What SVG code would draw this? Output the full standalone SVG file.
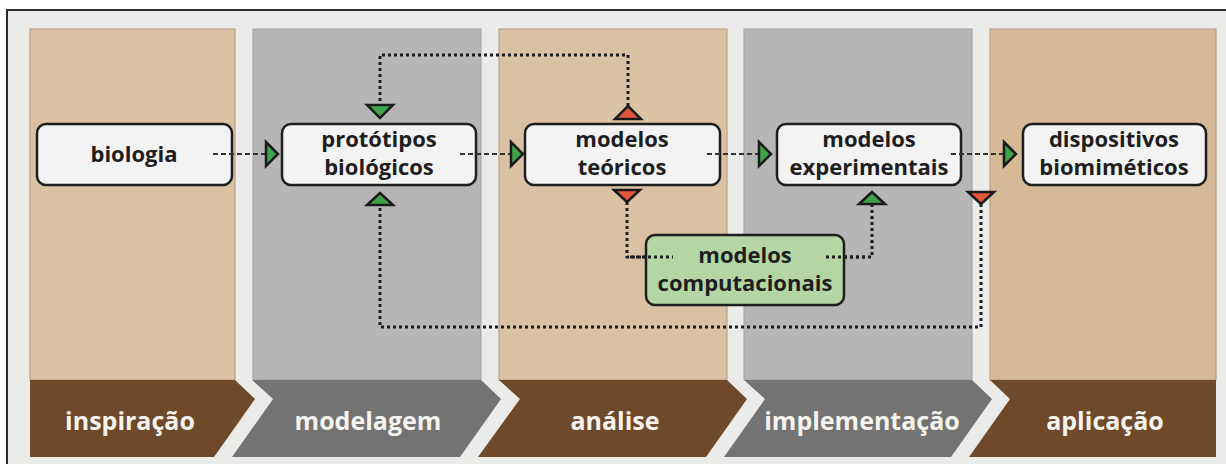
<svg xmlns="http://www.w3.org/2000/svg" width="1226" height="464" viewBox="0 0 1226 464">
<defs>
<style>
.tan{fill:#dbc1a4;stroke:#b39878;stroke-width:1}
.tan2{fill:#d6b996;stroke:#b39878;stroke-width:1}
.gry{fill:#b6b6b6;stroke:#a2a2a2;stroke-width:1}
.bb{fill:#6e4a2a}
.gb{fill:#737373}
.bt{font-family:"Open Sans","DejaVu Sans",sans-serif;font-weight:bold;font-size:25px;fill:#f7f3ee;text-anchor:middle}
.node{fill:#f3f3f3;stroke:#1e1e1e;stroke-width:2.5}
.gnode{fill:#b4d6a5;stroke:#1e1e1e;stroke-width:2.5}
.nt{font-family:"Open Sans","DejaVu Sans",sans-serif;font-weight:bold;font-size:22px;fill:#1e1e1e;text-anchor:middle}
.dot{fill:none;stroke:#1e1e1e;stroke-width:3;stroke-dasharray:3 3}
.dash{fill:none;stroke:#333;stroke-width:2;stroke-dasharray:5 3}
.tg{fill:#3fa447;stroke:#1a1a1a;stroke-width:2.5;stroke-linejoin:miter}
.tr{fill:#e2573b;stroke:#1a1a1a;stroke-width:2.5;stroke-linejoin:miter}
</style>
</defs>
<rect x="0" y="0" width="1226" height="464" fill="#ffffff"/>
<rect x="7" y="10" width="1240" height="470" fill="#ebebea" stroke="#2b2b2b" stroke-width="2"/>

<g id="col-inspiracao">
<rect class="tan" x="30" y="29" width="205" height="351"/>
<polygon class="bb" points="30,380 235,380 255,399 214,457 30,457"/>
<text class="bt" x="130" y="430">inspiração</text>
</g>
<g id="col-modelagem">
<rect class="gry" x="253" y="29" width="228" height="351"/>
<polygon class="gb" points="252,380 481,380 501,399 460,457 232,457 273,399"/>
<text class="bt" x="368" y="430">modelagem</text>
</g>
<g id="col-analise">
<rect class="tan" x="499" y="29" width="228" height="351"/>
<polygon class="bb" points="499,380 727,380 747,399 706,457 478,457 520,399"/>
<text class="bt" x="615" y="430">análise</text>
</g>
<g id="col-implementacao">
<rect class="gry" x="744" y="29" width="228" height="351"/>
<polygon class="gb" points="744,380 972,380 992,399 951,457 724,457 765,399"/>
<text class="bt" x="862" y="430">implementação</text>
</g>
<g id="col-aplicacao">
<rect class="tan2" x="990" y="29" width="226" height="351"/>
<polygon class="bb" points="990,380 1216,380 1216,457 969,457 1010,399"/>
<text class="bt" x="1105" y="430">aplicação</text>
</g>

<g id="connectors">
<path class="dot" d="M628,106 V55 H380 V104"/>
<path class="dot" d="M627,202 V257 H673"/>
<path class="dot" d="M826,257 H872 V205"/>
<path class="dot" d="M981,204 V327 H380 V206"/>
</g>

<g id="node-biologia">
<rect class="node" x="37" y="124" width="195" height="61" rx="9"/>
<text class="nt" x="134" y="162">biologia</text>
</g>
<g id="node-prototipos">
<rect class="node" x="282" y="124" width="194" height="61" rx="9"/>
<text class="nt" x="379" y="147">protótipos</text>
<text class="nt" x="379" y="175">biológicos</text>
</g>
<g id="node-teoricos">
<rect class="node" x="525" y="124" width="195" height="61" rx="9"/>
<text class="nt" x="622" y="147">modelos</text>
<text class="nt" x="622" y="175">teóricos</text>
</g>
<g id="node-experimentais">
<rect class="node" x="777" y="124" width="184" height="61" rx="9"/>
<text class="nt" x="869" y="147">modelos</text>
<text class="nt" x="869" y="175">experimentais</text>
</g>
<g id="node-dispositivos">
<rect class="node" x="1023" y="124" width="183" height="61" rx="9"/>
<text class="nt" x="1114" y="147">dispositivos</text>
<text class="nt" x="1114" y="175">biomiméticos</text>
</g>
<g id="node-computacionais">
<rect class="gnode" x="646" y="235" width="198" height="70" rx="9"/>
<text class="nt" x="745" y="263">modelos</text>
<text class="nt" x="745" y="291">computacionais</text>
</g>

<g id="connectors-overlay">
<path class="dot" d="M630,257 H673"/>
<path class="dot" d="M826,257 H868"/>
<path class="dash" d="M213,154 H265"/>
<path class="dash" d="M460,154 H510"/>
<path class="dash" d="M707,154 H758"/>
<path class="dash" d="M951,154 H1003"/>
<polygon class="tg" points="266,142 278,154 266,166"/>
<polygon class="tg" points="511,142 523,154 511,166"/>
<polygon class="tg" points="759,142 771,154 759,166"/>
<polygon class="tg" points="1004,142 1016,154 1004,166"/>
<polygon class="tg" points="367,105 393,105 380,118"/>
<polygon class="tr" points="615,119 641,119 628,106"/>
<polygon class="tr" points="614,190 640,190 627,202"/>
<polygon class="tg" points="859,204 885,204 872,192"/>
<polygon class="tr" points="968,192 994,192 981,204"/>
<polygon class="tg" points="367,205 393,205 380,193"/>
</g>
</svg>
